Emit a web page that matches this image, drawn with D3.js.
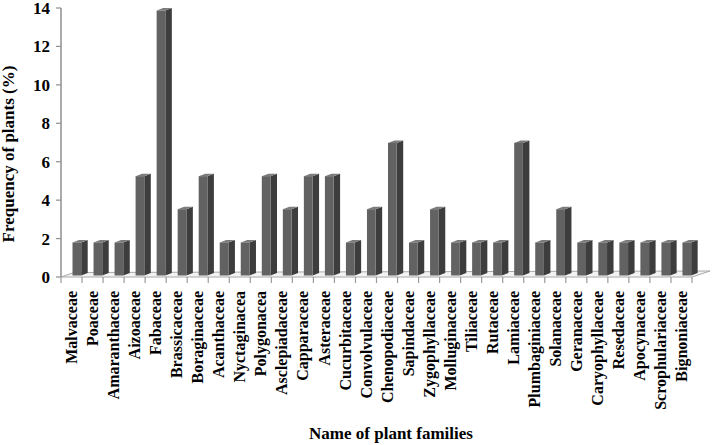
<!DOCTYPE html>
<html>
<head>
<meta charset="utf-8">
<script src="https://cdn.jsdelivr.net/npm/d3@7"></script>
<style>
  body { margin: 0; background: #fff; }
  text { font-family: "Liberation Serif", "DejaVu Serif", serif; font-weight: bold; fill: #000; }
</style>
</head>
<body>
<div id="chart-container"></div>
<script>
const families = [
  "Malvaceae", "Poaceae", "Amaranthaceae", "Aizoaceae", "Fabaceae",
  "Brassicaceae", "Boraginaceae", "Acanthaceae", "Nyctaginacea", "Polygonacea",
  "Asclepiadaceae", "Capparaceae", "Asteraceae", "Cucurbitaceae", "Convolvulaceae",
  "Chenopodiaceae", "Sapindaceae", "Zygophyllaceae", "Molluginaceae", "Tiliaceae",
  "Rutaceae", "Lamiaceae", "Plumbaginiaceae", "Solanaceae", "Geranaceae",
  "Caryophyllaceae", "Resedaceae", "Apocynaceae", "Scrophulariaceae", "Bignoniaceae"
];
const frequency = [
  1.72, 1.72, 1.72, 5.17, 13.79,
  3.45, 5.17, 1.72, 1.72, 5.17,
  3.45, 5.17, 5.17, 1.72, 3.45,
  6.90, 1.72, 3.45, 1.72, 1.72,
  1.72, 6.90, 1.72, 3.45, 1.72,
  1.72, 1.72, 1.72, 1.72, 1.72
];
const yTicks = [0, 2, 4, 6, 8, 10, 12, 14];

const w = 712;
const h = 445;

const svg = d3
  .select("#chart-container")
  .append("svg")
  .attr("width", w)
  .attr("height", h);

// scales
const xScale = d3.scaleBand().domain(families).range([61, 692]).padding(0);
const yScale = d3.scaleLinear().domain([0, 14]).range([277, 8]);

// floor (thin 3d plate)
const x0 = xScale.range()[0];
const x1 = xScale.range()[1];
const y0 = yScale(0);
svg
  .append("path")
  .attr("d", `M${x0},${y0} L${x1},${y0} L${x1 + 18},${y0 - 6} L${x0 + 13},${y0 - 4.5} Z`)
  .attr("fill", "#f3f3f3")
  .attr("stroke", "#a8a8a8")
  .attr("stroke-width", 1);

// y axis
svg
  .append("line")
  .attr("x1", x0).attr("x2", x0)
  .attr("y1", yScale(14)).attr("y2", y0)
  .attr("stroke", "#8f8f8f")
  .attr("stroke-width", 1.5);

const yAxis = svg.append("g").attr("id", "y-axis");
yAxis
  .selectAll("line")
  .data(yTicks)
  .enter()
  .append("line")
  .attr("x1", x0 - 5).attr("x2", x0)
  .attr("y1", (d) => yScale(d)).attr("y2", (d) => yScale(d))
  .attr("stroke", "#8f8f8f")
  .attr("stroke-width", 1.2);
yAxis
  .selectAll("text")
  .data(yTicks)
  .enter()
  .append("text")
  .attr("x", 50)
  .attr("y", (d) => yScale(d))
  .attr("dy", "0.35em")
  .attr("text-anchor", "end")
  .style("font-size", "17px")
  .text((d) => d);

// x axis ticks along the front edge
const boundaries = families.map((f) => xScale(f)).concat([x1]);
svg
  .append("g")
  .attr("id", "x-axis")
  .selectAll("line")
  .data(boundaries)
  .enter()
  .append("line")
  .attr("x1", (d) => d).attr("x2", (d) => d)
  .attr("y1", y0).attr("y2", y0 + 6)
  .attr("stroke", "#9a9a9a")
  .attr("stroke-width", 1.2);

// 3d bars
const barW = 8.7;
const depthX = 6.5;
const depthY = 2.5;
const lift = 1.5;

const bars = svg
  .selectAll(".bar")
  .data(families.map((f, i) => ({ name: f, value: frequency[i] })))
  .enter()
  .append("g")
  .attr("class", "bar");

bars
  .append("path")
  .attr("d", (d) => {
    const l = xScale(d.name) + 11.5 + barW;
    const t = yScale(d.value) - lift;
    const b = y0 - lift;
    return `M${l},${b} L${l},${t} L${l + depthX},${t - depthY} L${l + depthX},${b - depthY} Z`;
  })
  .attr("fill", "#3d3d3d");

bars
  .append("path")
  .attr("d", (d) => {
    const l = xScale(d.name) + 11.5;
    const t = yScale(d.value) - lift;
    return `M${l},${t} L${l + barW},${t} L${l + barW + depthX},${t - depthY} L${l + depthX},${t - depthY} Z`;
  })
  .attr("fill", "#7c7c7c");

bars
  .append("rect")
  .attr("x", (d) => xScale(d.name) + 11.5)
  .attr("y", (d) => yScale(d.value) - lift)
  .attr("width", barW)
  .attr("height", (d) => y0 - yScale(d.value))
  .attr("fill", "#626262");

// category labels
svg
  .append("g")
  .selectAll("text")
  .data(families)
  .enter()
  .append("text")
  .attr("transform", (d) => `translate(${xScale(d) + xScale.bandwidth() / 2},291) rotate(-90)`)
  .attr("dy", "0.35em")
  .attr("text-anchor", "end")
  .style("font-size", "16px")
  .text((d) => d);

// axis titles
svg
  .append("text")
  .attr("transform", "translate(13.5,154) rotate(-90)")
  .attr("text-anchor", "middle")
  .style("font-size", "17px")
  .text("Frequency of plants (%)");

svg
  .append("text")
  .attr("x", 391)
  .attr("y", 439)
  .attr("text-anchor", "middle")
  .style("font-size", "17px")
  .text("Name of plant families");
</script>
</body>
</html>
